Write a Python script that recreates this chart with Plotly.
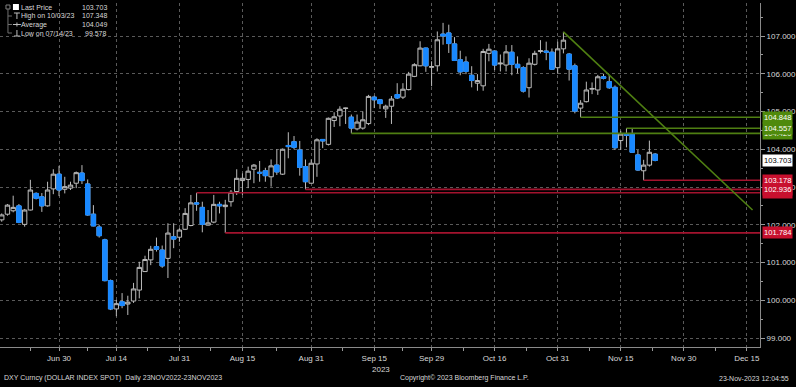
import numpy as np
import pandas as pd
import plotly.graph_objects as go

# ---------------- data ----------------
dates = pd.bdate_range("2023-06-16", "2023-11-23").strftime("%Y-%m-%d").tolist()

opens = [102.13, 102.28, 102.37, 102.50, 102.01, 102.39, 102.83, 102.74, 102.50, 102.95,
         103.34, 102.94, 102.97, 103.10, 103.37, 103.08, 102.28, 101.94, 101.60, 100.52,
         99.77, 99.96, 99.90, 99.98, 100.27, 100.76, 101.07, 101.42, 101.33, 101.11,
         101.68, 101.67, 101.88, 101.98, 102.58, 102.46, 101.99, 102.07, 102.54, 102.48,
         102.61, 102.88, 103.17, 103.20, 103.47, 103.39, 103.43, 103.27, 103.58, 103.34,
         104.10, 104.20, 103.98, 103.54, 103.10, 103.61, 104.26, 104.13, 104.76, 104.88,
         105.08, 104.85, 104.54, 104.56, 104.68, 105.38, 105.31, 105.07, 105.14, 105.45,
         105.38, 105.58, 105.93, 106.21, 106.68, 106.17, 106.21, 107.05, 107.08, 106.79,
         106.37, 106.31, 105.96, 105.75, 105.68, 106.54, 106.60, 106.26, 106.23, 106.57,
         106.25, 106.16, 105.63, 106.25, 106.59, 106.60, 106.57, 106.16, 106.66, 106.52,
         106.21, 105.09, 105.26, 105.59, 105.57, 105.92, 105.79, 105.64, 104.23, 104.40,
         104.40, 103.85, 103.43, 103.58, 103.87]
highs = [102.30, 102.55, 102.77, 102.55, 102.42, 103.19, 102.86, 102.84, 103.14, 103.47,
         103.56, 103.27, 103.14, 103.41, 103.58, 103.20, 102.52, 102.00, 101.63, 100.55,
         100.01, 100.19, 100.12, 100.46, 101.02, 101.18, 101.44, 101.66, 101.45, 102.04,
         102.04, 101.91, 102.44, 102.79, 102.846, 102.61, 102.39, 102.79, 102.61, 102.66,
         102.92, 103.47, 103.36, 103.54, 103.61, 103.69, 103.51, 103.73, 104.00, 104.02,
         104.45, 104.35, 104.22, 103.73, 103.73, 104.29, 104.27, 104.84, 104.98, 105.14,
         105.10, 104.92, 104.92, 105.00, 105.44, 105.42, 105.32, 105.18, 105.41, 105.75,
         105.75, 106.05, 106.28, 106.86, 106.69, 106.33, 107.12, 107.348, 107.30, 106.97,
         106.61, 106.46, 106.20, 105.99, 106.66, 106.79, 106.62, 106.51, 106.76, 106.76,
         106.46, 106.20, 106.41, 106.61, 106.89, 106.85, 106.67, 106.85, 107.11, 106.55,
         106.27, 105.30, 105.79, 105.77, 105.97, 106.00, 105.97, 105.69, 104.49, 104.557,
         104.55, 103.98, 103.72, 104.23, 103.90]
lows = [102.08, 102.24, 102.33, 102.04, 101.95, 102.38, 102.67, 102.34, 102.48, 102.81,
        102.76, 102.83, 102.92, 102.97, 103.08, 102.24, 101.96, 101.66, 100.50, 99.74,
        99.578, 99.79, 99.61, 99.93, 100.05, 100.76, 100.93, 101.29, 100.86, 100.59,
        101.38, 101.55, 101.86, 101.96, 102.37, 101.80, 101.98, 102.04, 102.30, 101.784,
        102.48, 102.79, 102.79, 102.97, 103.10, 103.14, 103.14, 103.01, 103.32, 103.32,
        103.76, 104.00, 103.30, 102.936, 103.10, 103.27, 104.03, 104.10, 104.59, 104.61,
        104.67, 104.42, 104.50, 104.52, 104.64, 105.09, 105.07, 104.83, 104.67, 105.33,
        105.33, 105.56, 105.91, 106.20, 106.05, 105.67, 106.06, 106.77, 106.55, 106.35,
        105.96, 105.99, 105.64, 105.55, 105.55, 106.33, 106.10, 106.06, 106.06, 105.96,
        106.01, 105.50, 105.37, 106.22, 106.54, 106.36, 106.10, 106.00, 106.54, 105.82,
        104.95, 104.848, 105.24, 105.46, 105.44, 105.85, 105.60, 103.98, 103.98, 104.05,
        103.91, 103.43, 103.178, 103.54, 103.68]
closes = [102.26, 102.52, 102.46, 102.06, 102.39, 102.92, 102.70, 102.50, 102.92, 103.34,
          102.92, 103.01, 103.05, 103.38, 103.17, 102.26, 101.97, 101.71, 100.52, 99.77,
          99.91, 99.86, 99.95, 100.30, 100.87, 101.08, 101.35, 101.35, 100.91, 101.78,
          101.62, 101.86, 102.30, 102.58, 102.55, 102.01, 102.05, 102.54, 102.50, 102.52,
          102.86, 103.23, 103.23, 103.42, 103.58, 103.37, 103.30, 103.56, 103.40, 104.00,
          104.07, 104.05, 103.52, 103.14, 103.63, 104.25, 104.22, 104.82, 104.86, 105.06,
          105.09, 104.56, 104.72, 104.78, 105.40, 105.31, 105.21, 105.14, 105.33, 105.36,
          105.59, 105.99, 106.24, 106.68, 106.21, 106.19, 106.90, 107.00, 106.80, 106.35,
          106.05, 106.06, 105.82, 105.82, 106.59, 106.65, 106.23, 106.28, 106.58, 106.25,
          106.16, 105.54, 106.28, 106.54, 106.61, 106.57, 106.12, 106.66, 106.89, 106.12,
          105.01, 105.22, 105.57, 105.61, 105.92, 105.88, 105.63, 104.04, 104.40, 104.37,
          103.92, 103.45, 103.58, 103.92, 103.703]

tick_dates = ["2023-06-30", "2023-07-14", "2023-07-31", "2023-08-15", "2023-08-31", "2023-09-15",
              "2023-09-29", "2023-10-16", "2023-10-31", "2023-11-15", "2023-11-30", "2023-12-15"]
tick_labels = ["Jun 30", "Jul 14", "Jul 31", "Aug 15", "Aug 31", "Sep 15",
               "Sep 29", "Oct 16", "Oct 31", "Nov 15", "Nov 30", "Dec 15"]
y_ticks = [99, 100, 101, 102, 103, 104, 105, 106, 107]

# horizontal level lines (start date, value, colour group); drawn in this order
level_starts = ["2023-09-11", "2023-11-06", "2023-11-16", "2023-08-03", "2023-08-10", "2023-08-30", "2023-11-21"]
level_values = [104.420, 104.848, 104.557, 102.846, 101.784, 102.936, 103.178]
level_kinds = ["green", "green", "green", "red", "red", "red", "red"]

trend_dates = ["2023-11-01", "2023-12-18"]
trend_values = [107.11, 102.39]

last_price = 103.703
legend_labels = ["Last Price", "High on 10/03/23", "Average", "Low on 07/14/23"]
legend_values = [103.703, 107.348, 104.049, 99.578]

footer_left = "DXY Curncy (DOLLAR INDEX SPOT)  Daily 23NOV2022-23NOV2023"
footer_mid = "Copyright\u00a9 2023 Bloomberg Finance L.P."
footer_right = "23-Nov-2023 12:04:55"

# ---------------- helpers ----------------
W, H = 796, 387
L, R, T, B = 0, 33, 3, 40
PW, PH = W - L - R, H - T - B


def bidx(d):
    return int(np.busday_count(dates[0], d))


def px(xp):
    return (xp - L) / PW


def py(yp):
    return (H - B - yp) / PH


x = [bidx(d) for d in dates]
tick_x = [bidx(d) for d in tick_dates]
minor_x = [tick_x[0] - (tick_x[1] - tick_x[0]) / 2] + [(a + b) / 2 for a, b in zip(tick_x[:-1], tick_x[1:])] \
          + [tick_x[-1] + (tick_x[-1] - tick_x[-2]) / 2]
x_range = [-0.3, 132.3]
y_range = [98.762, 107.874]

GRAY = "#bcbcbc"
BLUE = "#1888ff"
GREEN_LINE = "#4f7f12"
GREEN_BOX = "#4f8a0c"
RED_LINE = "#a3132e"
RED_BOX = "#c8102e"
TXT = "#d8d8d8"
FONT = "Liberation Sans, Arial, sans-serif"
FS_AX = 8
FS_LEG = 7
FS_FOOT = 7
FS_BOX = 7.6

fig = go.Figure()

# skeleton: wicks + hollow bodies in grey
fig.add_trace(go.Candlestick(
    x=x, open=opens, high=highs, low=lows, close=closes,
    increasing=dict(line=dict(color=GRAY, width=1), fillcolor="#000000"),
    decreasing=dict(line=dict(color=GRAY, width=1), fillcolor=GRAY),
    whiskerwidth=0, showlegend=False, hoverinfo="skip"))

# solid blue bodies for falling days
body_hi = [max(o, c) for o, c in zip(opens, closes)]
body_lo = [min(o, c) for o, c in zip(opens, closes)]
fig.add_trace(go.Candlestick(
    x=x, open=opens, high=body_hi, low=body_lo, close=closes,
    increasing=dict(line=dict(color="rgba(0,0,0,0)", width=0), fillcolor="rgba(0,0,0,0)"),
    decreasing=dict(line=dict(color=BLUE, width=1), fillcolor=BLUE),
    whiskerwidth=0, showlegend=False, hoverinfo="skip"))

# level lines
for s, v, k in zip(level_starts, level_values, level_kinds):
    fig.add_trace(go.Scatter(
        x=[bidx(s), x_range[1]], y=[v, v], mode="lines",
        line=dict(color=GREEN_LINE if k == "green" else RED_LINE, width=1.6),
        showlegend=False, hoverinfo="skip"))

# trend line
fig.add_trace(go.Scatter(
    x=[bidx(d) for d in trend_dates], y=trend_values, mode="lines",
    line=dict(color=GREEN_LINE, width=1.6), showlegend=False, hoverinfo="skip"))

annotations = []
# right-axis value boxes
for s, v, k in zip(level_starts, level_values, level_kinds):
    annotations.append(dict(
        x=1, xref="paper", y=v, yref="y", xanchor="left", yanchor="middle", xshift=2,
        text=f"{v:.3f}", showarrow=False, bgcolor=GREEN_BOX if k == "green" else RED_BOX,
        font=dict(family=FONT, size=FS_BOX, color="#ffffff"), borderpad=1))
annotations.append(dict(
    x=1, xref="paper", y=last_price, yref="y", xanchor="left", yanchor="middle", xshift=2,
    text=f"{last_price:.3f}", showarrow=False, bgcolor="#ffffff",
    font=dict(family=FONT, size=FS_BOX, color="#000000"), borderpad=1))

# legend block
rows_y = [7, 16, 24.5, 33]
for lab, val, yy in zip(legend_labels, legend_values, rows_y):
    annotations.append(dict(x=px(20), y=py(yy), xref="paper", yref="paper", xanchor="left",
                            yanchor="middle", text=lab, showarrow=False, borderpad=0,
                            font=dict(family=FONT, size=FS_LEG, color=TXT)))
    annotations.append(dict(x=px(108), y=py(yy), xref="paper", yref="paper", xanchor="right",
                            yanchor="middle", text=f"{val:.3f}", showarrow=False, borderpad=0,
                            font=dict(family=FONT, size=FS_LEG, color=TXT)))

# footer
annotations += [
    dict(x=px(2), y=py(378), xref="paper", yref="paper", xanchor="left", yanchor="middle",
         text=footer_left, showarrow=False, font=dict(family=FONT, size=FS_FOOT, color=TXT)),
    dict(x=px(400), y=py(378), xref="paper", yref="paper", xanchor="left", yanchor="middle",
         text=footer_mid, showarrow=False, font=dict(family=FONT, size=FS_FOOT, color=TXT)),
    dict(x=px(794), y=py(378), xref="paper", yref="paper", xanchor="right", yanchor="middle",
         text=footer_right, showarrow=False, font=dict(family=FONT, size=FS_FOOT, color=TXT)),
    dict(x=px(383), y=py(369), xref="paper", yref="paper", xanchor="center", yanchor="middle",
         text="2023", showarrow=False, font=dict(family=FONT, size=FS_AX, color=TXT)),
]

shapes = [
    # legend icons
    dict(type="rect", xref="paper", yref="paper", x0=px(13), x1=px(19), y0=py(10), y1=py(4),
         fillcolor="#ffffff", line=dict(width=0)),
    dict(type="rect", xref="paper", yref="paper", x0=px(6), x1=px(10), y0=py(9), y1=py(5),
         fillcolor="rgba(0,0,0,0)", line=dict(color="#808080", width=1)),
    dict(type="line", xref="paper", yref="paper", x0=px(8), x1=px(8), y0=py(9), y1=py(33),
         line=dict(color="#707070", width=1)),
]
for yy in rows_y[1:]:
    shapes.append(dict(type="line", xref="paper", yref="paper", x0=px(8), x1=px(12), y0=py(yy), y1=py(yy),
                       line=dict(color="#707070", width=1)))
# high icon (T), average (+), low (inverted T)
shapes += [
    dict(type="line", xref="paper", yref="paper", x0=px(14), x1=px(20), y0=py(13), y1=py(13), line=dict(color=GRAY, width=1)),
    dict(type="line", xref="paper", yref="paper", x0=px(17), x1=px(17), y0=py(13), y1=py(19), line=dict(color=GRAY, width=1)),
    dict(type="line", xref="paper", yref="paper", x0=px(13), x1=px(21), y0=py(24.5), y1=py(24.5), line=dict(color=GRAY, width=1)),
    dict(type="line", xref="paper", yref="paper", x0=px(17), x1=px(17), y0=py(22.5), y1=py(26.5), line=dict(color=GRAY, width=1)),
    dict(type="line", xref="paper", yref="paper", x0=px(14), x1=px(20), y0=py(36), y1=py(36), line=dict(color=GRAY, width=1)),
    dict(type="line", xref="paper", yref="paper", x0=px(17), x1=px(17), y0=py(30), y1=py(36), line=dict(color=GRAY, width=1)),
]

fig.update_layout(
    width=W, height=H, margin=dict(l=L, r=R, t=T, b=B, pad=0),
    paper_bgcolor="#000000", plot_bgcolor="#000000",
    boxgap=0.15, boxgroupgap=0.1, boxmode="overlay",
    showlegend=False, annotations=annotations, shapes=shapes,
    font=dict(family=FONT, size=FS_AX, color=TXT),
    xaxis=dict(range=x_range, tickmode="array", tickvals=tick_x, ticktext=tick_labels,
               ticks="outside", ticklen=3, tickcolor="#9a9a9a", showline=True, linecolor="#8a8a8a",
               linewidth=1, showgrid=True, gridcolor="#5a5a5a", griddash="dot", gridwidth=1,
               zeroline=False, rangeslider=dict(visible=False),
               tickfont=dict(family=FONT, size=FS_AX, color=TXT),
               minor=dict(tickmode="array", tickvals=minor_x, ticks="outside", ticklen=3,
                          tickcolor="#9a9a9a", showgrid=False)),
    yaxis=dict(range=y_range, side="right", tickmode="array", tickvals=y_ticks, tickformat=".3f",
               ticks="outside", ticklen=4, tickcolor="#9a9a9a", showline=True, linecolor="#8a8a8a",
               linewidth=1, showgrid=True, gridcolor="#5a5a5a", griddash="dot", gridwidth=1,
               zeroline=False, tickfont=dict(family=FONT, size=FS_AX, color=TXT),
               minor=dict(dtick=0.5, tick0=99, ticks="outside", ticklen=2, tickcolor="#9a9a9a",
                          showgrid=False)),
)

fig.write_html("out.html", config={"displayModeBar": False},
               post_script="document.body.style.margin='0px';")
